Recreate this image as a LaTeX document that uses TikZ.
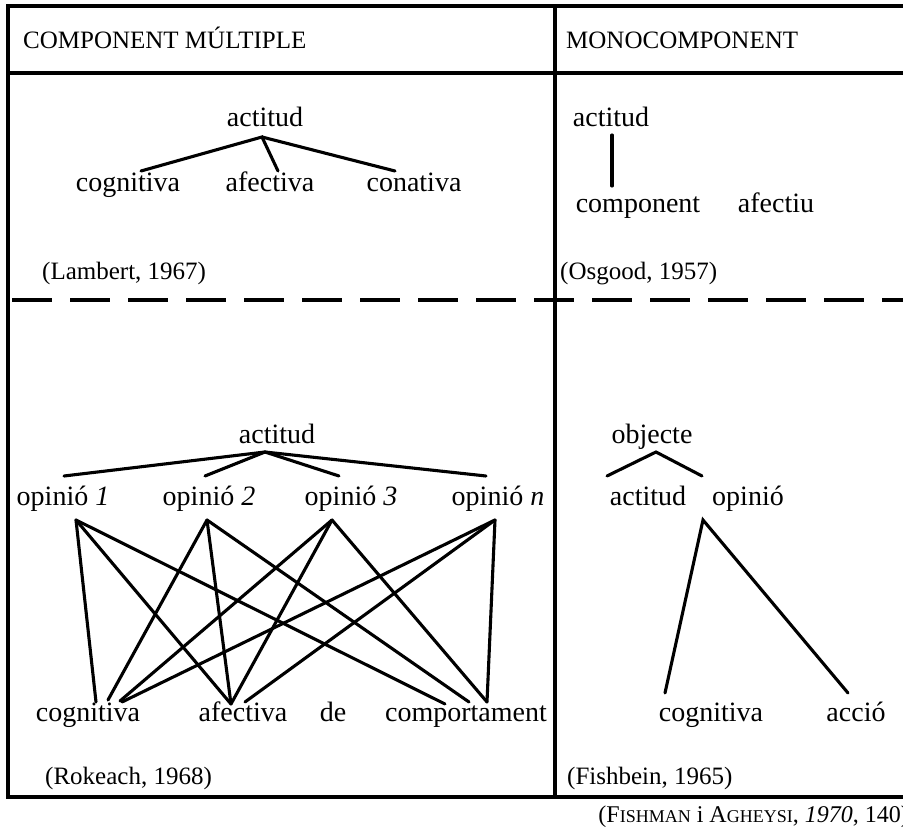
\documentclass[tikz,border=0pt]{standalone}
\usepackage{fontspec}
\setmainfont{Liberation Serif}
\newcommand\fakesc[2]{#1{\fontsize{18}{22}\selectfont #2}}
\begin{document}
\begin{tikzpicture}[x=1pt,y=-1pt,
  lbl/.style={inner sep=0pt, anchor=base, font=\fontsize{28}{33}\selectfont},
  hdr/.style={inner sep=0pt, anchor=base west, font=\fontsize{25}{30}\selectfont},
  cite/.style={inner sep=0pt, anchor=base west, font=\fontsize{25}{30}\selectfont},
  src/.style={inner sep=0pt, anchor=base east, font=\fontsize{24}{28}\selectfont},
  frame/.style={line width=3.1pt},
  link/.style={line width=3.1pt, line cap=round},
  ]
\useasboundingbox (0,0) rectangle (903,829);
% frame
\draw[frame] (903,6) -- (8,6) -- (8,797) -- (903,797);
\draw[frame] (8,73) -- (903,73);
\draw[frame] (555,6) -- (555,797);
\draw[frame, dash pattern=on 40pt off 18pt] (12,300) -- (903,300);
% headers
\node[hdr] (h1) at (23,49) {COMPONENT MÚLTIPLE};
\node[hdr] (h2) at (566,49) {MONOCOMPONENT};
% top left
\node[lbl] (a1) at (265,127) {actitud};
\node[lbl] (c1) at (128,192) {cognitiva};
\node[lbl] (f1) at (270,192) {afectiva};
\node[lbl] (k1) at (414,192) {conativa};
\draw[link] ([xshift=13pt,yshift=21pt]c1.base) -- ([xshift=-3pt,yshift=-10pt]a1.base)
  -- ([xshift=8pt,yshift=21pt]f1.base);
\draw[link] ([xshift=-3pt,yshift=-10pt]a1.base) -- ([xshift=-19pt,yshift=21pt]k1.base);
\node[cite] (lam) at (42,280) {(Lambert, 1967)};
% top right
\node[lbl] (a2) at (611,127) {actitud};
\node[lbl] (cp) at (638,213) {component};
\node[lbl] (af) at (776,213) {afectiu};
\draw[link] ([xshift=1pt,yshift=-8pt]a2.base) -- ([xshift=-26pt,yshift=27pt]cp.base);
\node[cite] (osg) at (560,280) {(Osgood, 1957)};
% bottom left
\node[lbl] (a3) at (277,443) {actitud};
\node[lbl] (o1) at (63,505) {opinió \textit{1}};
\node[lbl] (o2) at (209,505) {opinió \textit{2}};
\node[lbl] (o3) at (351,505) {opinió \textit{3}};
\node[lbl] (on) at (498,505) {opinió \textit{n}};
\coordinate (ap) at ([xshift=-12pt,yshift=-9pt]a3.base);
\draw[link] (ap) -- ([xshift=1pt,yshift=29pt]o1.base);
\draw[link] (ap) -- ([xshift=-4pt,yshift=29pt]o2.base);
\draw[link] (ap) -- ([xshift=-12pt,yshift=29pt]o3.base);
\draw[link] (ap) -- ([xshift=-12pt,yshift=29pt]on.base);
\node[lbl] (bc) at (88,721) {cognitiva};
\node[lbl] (ba) at (243,721) {afectiva};
\node[lbl] (bd) at (333,721) {de};
\node[lbl] (bp) at (466,721) {comportament};
\coordinate (t1) at ([xshift=13pt,yshift=-15pt]o1.base);
\coordinate (t2) at ([xshift=-2pt,yshift=-15pt]o2.base);
\coordinate (t3) at ([xshift=-19pt,yshift=-15pt]o3.base);
\coordinate (t4) at ([xshift=-3pt,yshift=-15pt]on.base);
\draw[link] (t1) -- ([xshift=8pt,yshift=19pt]bc.base);
\draw[link] (t1) -- ([xshift=-12pt,yshift=17pt]ba.base);
\draw[link] (t1) -- ([xshift=-21pt,yshift=17pt]bp.base);
\draw[link] (t2) -- ([xshift=20pt,yshift=21pt]bc.base);
\draw[link] (t2) -- ([xshift=-12pt,yshift=17pt]ba.base);
\draw[link] (t2) -- ([xshift=3pt,yshift=19pt]bp.base);
\draw[link] (t3) -- ([xshift=32pt,yshift=20pt]bc.base);
\draw[link] (t3) -- ([xshift=-12pt,yshift=17pt]ba.base);
\draw[link] (t3) -- ([xshift=21pt,yshift=19pt]bp.base);
\draw[link] (t4) -- ([xshift=34pt,yshift=19pt]bc.base);
\draw[link] (t4) -- ([xshift=2pt,yshift=19pt]ba.base);
\draw[link] (t4) -- ([xshift=21pt,yshift=19pt]bp.base);
\node[cite] (rok) at (45,784) {(Rokeach, 1968)};
% bottom right
\node[lbl] (ob) at (652,443) {objecte};
\node[lbl] (ra) at (648,505) {actitud};
\node[lbl] (ro) at (748,505) {opinió};
\node[lbl] (rc) at (711,721) {cognitiva};
\node[lbl] (rx) at (856,721) {acció};
\draw[link] ([xshift=-41pt,yshift=29pt]ra.base) -- ([xshift=4pt,yshift=-9pt]ob.base)
  -- ([xshift=-46pt,yshift=29pt]ro.base);
\draw[link] ([xshift=-46pt,yshift=28pt]rc.base) -- ([xshift=-45pt,yshift=-15pt]ro.base)
  -- ([xshift=-8pt,yshift=28pt]rx.base);
\node[cite] (fis) at (567,784) {(Fishbein, 1965)};
% source
\node[src] (source) at (909,822) {(\fakesc{F}{ISHMAN} i \fakesc{A}{GHEYSI}, \textit{1970}, 140)};
\end{tikzpicture}
\end{document}
